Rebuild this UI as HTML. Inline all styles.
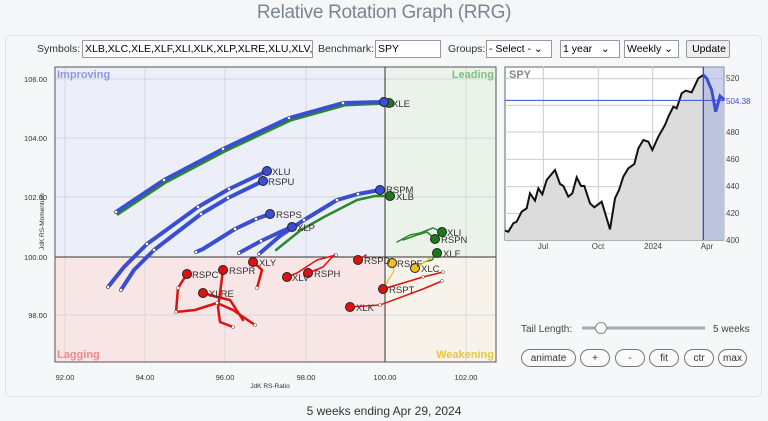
<!DOCTYPE html>
<html><head><meta charset="utf-8"><style>
body{margin:0;width:768px;height:421px;background:#f4f6f8;font-family:"Liberation Sans",sans-serif;position:relative;overflow:hidden}
.t{position:absolute;left:0;width:768px;top:2px;text-align:center;font-size:19px;color:#7a8591;letter-spacing:-0.3px}
.panel{position:absolute;left:5px;top:35px;width:755px;height:360px;background:#f6f7f8;border:1px solid #dde1e5;border-radius:6px}
.ctl{position:absolute;top:43px;font-size:10.5px;color:#333}
.box{position:absolute;top:40px;border:1px solid #999;background:#fff;font-size:10.5px;line-height:16px;padding-left:2px;box-sizing:border-box;height:18px;white-space:nowrap;overflow:hidden}
.btn{position:absolute;top:349px;height:18px;border:1px solid #777;border-radius:9px;background:#fafafa;font-size:10px;text-align:center;line-height:17px;color:#333;box-sizing:border-box}
.foot{position:absolute;top:404px;left:0;width:768px;text-align:center;font-size:12px;color:#333}
</style></head><body>
<div class="t">Relative Rotation Graph (RRG)</div>
<div class="panel"></div>
<div class="ctl" style="left:37px">Symbols:</div>
<div class="box" style="left:82px;width:231px">XLB,XLC,XLE,XLF,XLI,XLK,XLP,XLRE,XLU,XLV,XL</div>
<div class="ctl" style="left:318px">Benchmark:</div>
<div class="box" style="left:375px;width:66px">SPY</div>
<div class="ctl" style="left:448px">Groups:</div>
<div class="box" style="left:486px;width:66px">- Select - ⌄</div>
<div class="box" style="left:560px;width:60px">1 year &nbsp;&nbsp;⌄</div>
<div class="box" style="left:624px;width:55px">Weekly ⌄</div>
<div class="box" style="left:686px;width:44px;background:#eee;border-radius:2px;text-align:center">Update</div>
<svg width="768" height="421" style="position:absolute;left:0;top:0" font-family="Liberation Sans,sans-serif">
<rect x="55" y="67" width="330" height="190" fill="#eceef8"/>
<rect x="385" y="67" width="111" height="190" fill="#eaf2ea"/>
<rect x="55" y="257" width="330" height="105" fill="#f8e6e6"/>
<rect x="385" y="257" width="111" height="105" fill="#f8f3ea"/>
<g stroke="#d5d8dc" stroke-width="1">
<line x1="65" y1="67" x2="65" y2="362"/><line x1="145" y1="67" x2="145" y2="362"/><line x1="225" y1="67" x2="225" y2="362"/><line x1="306" y1="67" x2="306" y2="362"/><line x1="466" y1="67" x2="466" y2="362"/>
<line x1="55" y1="79" x2="496" y2="79"/><line x1="55" y1="138" x2="496" y2="138"/><line x1="55" y1="197" x2="496" y2="197"/><line x1="55" y1="315" x2="496" y2="315"/>
</g>
<line x1="385" y1="67" x2="385" y2="362" stroke="#333"/>
<line x1="55" y1="257" x2="496" y2="257" stroke="#333"/>
<rect x="55" y="67" width="441" height="295" fill="none" stroke="#555"/>
<g font-size="11" font-weight="bold"><text x="57" y="78" fill="#8f97e0">Improving</text><text x="494" y="78" fill="#7fbf7f" text-anchor="end">Leading</text><text x="57" y="358" fill="#f08a8a">Lagging</text><text x="494" y="358" fill="#e8c640" text-anchor="end">Weakening</text></g>
<g font-size="7.5" fill="#333"><text x="65" y="380" text-anchor="middle">92.00</text><text x="145" y="380" text-anchor="middle">94.00</text><text x="225" y="380" text-anchor="middle">96.00</text><text x="306" y="380" text-anchor="middle">98.00</text><text x="385" y="380" text-anchor="middle">100.00</text><text x="466" y="380" text-anchor="middle">102.00</text><text x="270" y="388" text-anchor="middle" font-size="6.5">JdK RS-Ratio</text>
<text x="47" y="82" text-anchor="end">106.00</text><text x="47" y="141" text-anchor="end">104.00</text><text x="47" y="200" text-anchor="end">102.00</text><text x="47" y="260" text-anchor="end">100.00</text><text x="47" y="318" text-anchor="end">98.00</text>
<text transform="translate(44,250) rotate(-90)" font-size="6.5">JdK RS-Momentum</text></g>
<g fill="none" stroke-linecap="round" stroke-linejoin="round">
<polyline stroke="#2a8a2a" stroke-width="3" points="118,214 166,182 225,151 291,120 345,105 389,103"/>
<polyline stroke="#3a4fcf" stroke-width="4" points="116,212 164,180 223,149 289,118 343,103 384,102"/>
<polyline stroke="#3a4fcf" stroke-width="4" points="108,287 124,267 147,244 198,207 229,189 267,171"/>
<polyline stroke="#3a4fcf" stroke-width="4" points="121,290 134,270 154,250 201,214 228,198 263,181"/>
<polyline stroke="#3a4fcf" stroke-width="4" points="196,252 203,249 235,229 256,219 270,214"/>
<polyline stroke="#3a4fcf" stroke-width="4" points="239,253 261,241 278,233 292,227"/>
<polyline stroke="#3a4fcf" stroke-width="4" points="259,254 280,236 304,220 337,200 358,194 380,190"/>
<polyline stroke="#2a8a2a" stroke-width="2.5" points="276,250 301,230 324,217 357,200 375,196 390,196"/>
<polyline stroke="#2a8a2a" stroke-width="1.5" points="397,242 410,235 420,233 433,228 442,232"/>
<polyline stroke="#2a8a2a" stroke-width="1.5" points="403,240 417,235 427,232 435,239"/>
<polyline stroke="#2a8a2a" stroke-width="1.5" points="424,262 432,260 437,253"/>
<polyline stroke="#e8c640" stroke-width="1.5" points="392,263 394,271 386,284"/>
<polyline stroke="#e8c640" stroke-width="1.5" points="415,268 425,262 430,258"/>
<polyline stroke="#e01010" stroke-width="1.5" points="383,289 423,277 443,272"/>
<polyline stroke="#e01010" stroke-width="1.5" points="350,307 380,305 423,289 442,281"/>
<polyline stroke="#e01010" stroke-width="1.5" points="358,260 366,255"/>
<polyline stroke="#e01010" stroke-width="1.5" points="287,277 297,273 317,260 336,255"/>
<polyline stroke="#e01010" stroke-width="1.5" points="308,273 323,267 335,254"/>
<polyline stroke="#e01010" stroke-width="2.5" points="253,262 260,268 262,270 257,288"/>
<polyline stroke="#e01010" stroke-width="2.5" points="187,274 178,288 176,312 195,310 217,303 233,310 255,325"/>
<polyline stroke="#e01010" stroke-width="2.5" points="223,270 220,293 218,307 220,322 233,327"/>
<polyline stroke="#e01010" stroke-width="2.5" points="203,293 217,297 230,300 243,320"/>
</g>
<g fill="#fff" stroke="#666" stroke-width="0.6">
<circle cx="116" cy="212" r="1.5"/><circle cx="164" cy="180" r="1.5"/><circle cx="223" cy="149" r="1.5"/><circle cx="289" cy="118" r="1.5"/><circle cx="343" cy="103" r="1.5"/>
<circle cx="108" cy="287" r="1.5"/><circle cx="147" cy="244" r="1.5"/><circle cx="198" cy="207" r="1.5"/><circle cx="229" cy="189" r="1.5"/>
<circle cx="121" cy="290" r="1.5"/><circle cx="154" cy="250" r="1.5"/><circle cx="201" cy="214" r="1.5"/><circle cx="228" cy="198" r="1.5"/>
<circle cx="196" cy="252" r="1.5"/><circle cx="235" cy="229" r="1.5"/><circle cx="256" cy="219" r="1.5"/>
<circle cx="239" cy="253" r="1.5"/><circle cx="261" cy="241" r="1.5"/><circle cx="259" cy="254" r="1.5"/><circle cx="304" cy="220" r="1.5"/><circle cx="337" cy="200" r="1.5"/><circle cx="358" cy="194" r="1.5"/>
<circle cx="178" cy="288" r="1.5"/><circle cx="176" cy="312" r="1.5"/><circle cx="217" cy="303" r="1.5"/><circle cx="255" cy="325" r="1.5"/><circle cx="233" cy="327" r="1.5"/><circle cx="257" cy="288" r="1.5"/>
<circle cx="423" cy="277" r="1.5"/><circle cx="443" cy="272" r="1.5"/><circle cx="380" cy="305" r="1.5"/><circle cx="442" cy="281" r="1.5"/><circle cx="336" cy="255" r="1.5"/>
</g>
<g stroke="#222" stroke-width="1">
<circle cx="389" cy="103" r="4.5" fill="#1a7a1a"/><circle cx="384" cy="102" r="4.5" fill="#3a4fcf"/>
<circle cx="267" cy="171" r="4.5" fill="#3a4fcf"/><circle cx="263" cy="181" r="4.5" fill="#3a4fcf"/>
<circle cx="270" cy="214" r="4.5" fill="#3a4fcf"/><circle cx="292" cy="227" r="4.5" fill="#3a4fcf"/>
<circle cx="380" cy="190" r="4.5" fill="#3a4fcf"/><circle cx="390" cy="196" r="4.5" fill="#1a7a1a"/>
<circle cx="442" cy="232" r="4.5" fill="#1a7a1a"/><circle cx="435" cy="239" r="4.5" fill="#1a7a1a"/><circle cx="437" cy="253" r="4.5" fill="#1a7a1a"/>
<circle cx="392" cy="263" r="4.5" fill="#f0c020"/><circle cx="415" cy="268" r="4.5" fill="#f0c020"/>
<circle cx="383" cy="289" r="4.5" fill="#e01010"/><circle cx="350" cy="307" r="4.5" fill="#e01010"/><circle cx="358" cy="260" r="4.5" fill="#e01010"/>
<circle cx="287" cy="277" r="4.5" fill="#e01010"/><circle cx="308" cy="273" r="4.5" fill="#e01010"/><circle cx="253" cy="262" r="4.5" fill="#e01010"/>
<circle cx="187" cy="274" r="4.5" fill="#e01010"/><circle cx="223" cy="270" r="4.5" fill="#e01010"/><circle cx="203" cy="293" r="4.5" fill="#e01010"/>
</g>
<g font-size="9.5" fill="#333">
<text x="392" y="107">XLE</text><text x="272" y="175">XLU</text><text x="268" y="185">RSPU</text><text x="276" y="218">RSPS</text><text x="297" y="231">XLP</text>
<text x="386" y="193">RSPM</text><text x="396" y="200">XLB</text><text x="447" y="236">XLI</text><text x="441" y="243">RSPN</text><text x="443" y="257">XLF</text>
<text x="397" y="267">RSPF</text><text x="421" y="272">XLC</text><text x="389" y="293">RSPT</text><text x="356" y="311">XLK</text><text x="364" y="264">RSPD</text>
<text x="292" y="281">XLV</text><text x="314" y="277">RSPH</text><text x="259" y="266">XLY</text><text x="192" y="278">RSPC</text><text x="229" y="274">RSPR</text><text x="209" y="297">XLRE</text>
</g>
<!-- SPY -->
<rect x="505" y="67" width="219" height="173" fill="#fff" stroke="#666"/>
<g transform="translate(495,60) scale(0.33333)">
<g stroke="#ccc" stroke-width="3"><line x1="145" y1="20" x2="145" y2="540"/><line x1="310" y1="20" x2="310" y2="540"/><line x1="473" y1="20" x2="473" y2="540"/><line x1="30" y1="460" x2="688" y2="460"/><line x1="30" y1="380" x2="688" y2="380"/><line x1="30" y1="298" x2="688" y2="298"/><line x1="30" y1="216" x2="688" y2="216"/><line x1="30" y1="136" x2="688" y2="136"/><line x1="30" y1="56" x2="688" y2="56"/></g>
<polygon fill="#dcdcdc" points="30,540 30,512 40,515 55,490 65,485 80,455 95,445 105,400 120,422 130,385 142,403 155,360 180,330 195,372 205,378 220,410 232,400 245,352 258,378 268,378 285,430 298,442 320,425 345,508 360,415 372,390 385,350 400,325 418,312 430,265 445,240 460,245 472,270 490,230 510,195 520,170 535,140 545,145 560,100 572,92 590,97 610,55 625,45 635,55 650,90 662,155 675,108 688,120 688,540"/>
<rect x="625" y="20" width="63" height="520" fill="#aab4e0" opacity="0.6"/>
<polyline fill="none" stroke="#111" stroke-width="6" points="30,512 40,515 55,490 65,485 80,455 95,445 105,400 120,422 130,385 142,403 155,360 180,330 195,372 205,378 220,410 232,400 245,352 258,378 268,378 285,430 298,442 320,425 345,508 360,415 372,390 385,350 400,325 418,312 430,265 445,240 460,245 472,270 490,230 510,195 520,170 535,140 545,145 560,100 572,92 590,97 610,55 625,45"/>
<polyline fill="none" stroke="#3a4fcf" stroke-width="9" points="625,45 635,55 650,90 662,155 675,108 688,120"/>
<line x1="30" y1="121" x2="688" y2="121" stroke="#3a4fcf" stroke-width="3"/>
<line x1="625" y1="20" x2="625" y2="540" stroke="#3a4fcf" stroke-width="4"/>
</g>
<text x="509" y="78" font-size="11" font-weight="bold" fill="#888">SPY</text>
<g font-size="8" fill="#444"><text x="726" y="81">520</text><text x="726" y="135">480</text><text x="726" y="162">460</text><text x="726" y="189">440</text><text x="726" y="216">420</text><text x="726" y="243">400</text><text x="726" y="104" fill="#3a4fcf">504.38</text>
<text x="543" y="249" text-anchor="middle">Jul</text><text x="598" y="249" text-anchor="middle">Oct</text><text x="653" y="249" text-anchor="middle">2024</text><text x="707" y="249" text-anchor="middle">Apr</text></g>
<text x="521" y="332" font-size="10" fill="#444">Tail Length:</text>
<line x1="582" y1="328" x2="705" y2="328" stroke="#aaa" stroke-width="3"/>
<circle cx="601" cy="328" r="5.5" fill="#fff" stroke="#888"/>
<text x="713" y="332" font-size="10" fill="#444">5 weeks</text>
</svg>
<div class="btn" style="left:521px;width:55px">animate</div>
<div class="btn" style="left:580px;width:30px">+</div>
<div class="btn" style="left:615px;width:30px">-</div>
<div class="btn" style="left:649px;width:30px">fit</div>
<div class="btn" style="left:684px;width:30px">ctr</div>
<div class="btn" style="left:718px;width:29px">max</div>
<div class="foot">5 weeks ending Apr 29, 2024</div>
</body></html>
